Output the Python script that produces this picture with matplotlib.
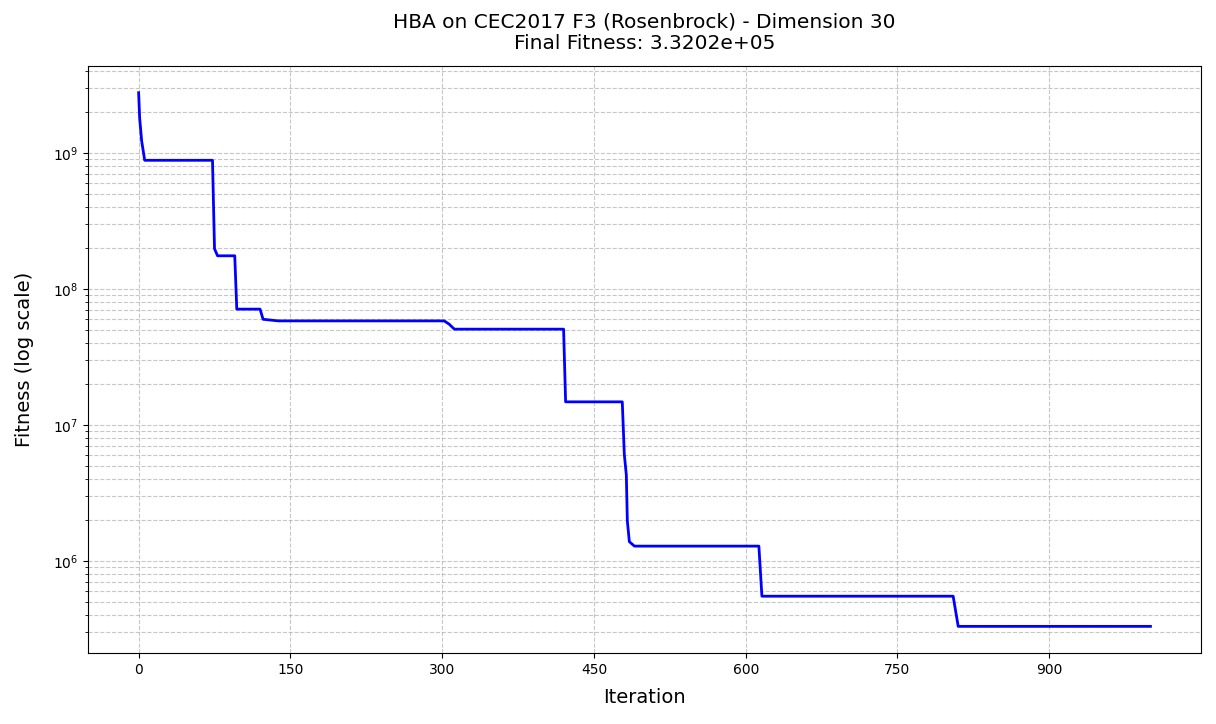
import numpy as np
import matplotlib
matplotlib.use("Agg")
import matplotlib.pyplot as plt

# vertices of the convergence curve
iters = [0, 1, 3, 6, 73, 75, 78, 95, 97, 120, 123, 138, 302, 307, 312,
         420, 422, 478, 480, 482, 483, 485, 490, 613, 616, 805, 810, 1000]
fitness = [2.76e9, 1.8e9, 1.22e9, 8.8e8, 8.8e8, 1.97e8, 1.75e8, 1.75e8, 7.1e7,
           7.1e7, 5.98e7, 5.82e7, 5.82e7, 5.5e7, 5.06e7, 5.06e7, 1.48e7,
           1.48e7, 6.1e6, 4.3e6, 1.97e6, 1.39e6, 1.29e6, 1.29e6, 5.53e5,
           5.53e5, 3.3202e5, 3.3202e5]
xtick_vals = [0, 150, 300, 450, 600, 750, 900]

fig, ax = plt.subplots(figsize=(12.16, 7.24), dpi=100)
fig.subplots_adjust(left=0.0724, right=0.9877, top=0.9088, bottom=0.098)

ax.plot(iters, fitness, color='blue', linewidth=2)
ax.set_yscale('log')
ax.set_xticks(xtick_vals)
ax.set_xlabel('Iteration', fontsize=14, labelpad=8)
ax.set_ylabel('Fitness (log scale)', fontsize=14, labelpad=14)
ax.set_title('HBA on CEC2017 F3 (Rosenbrock) - Dimension 30\n'
             'Final Fitness: %.4e' % fitness[-1], fontsize=14.5, pad=12)
ax.grid(True, which='both', linestyle='--', alpha=0.7)

fig.savefig('out.png', dpi=100)
